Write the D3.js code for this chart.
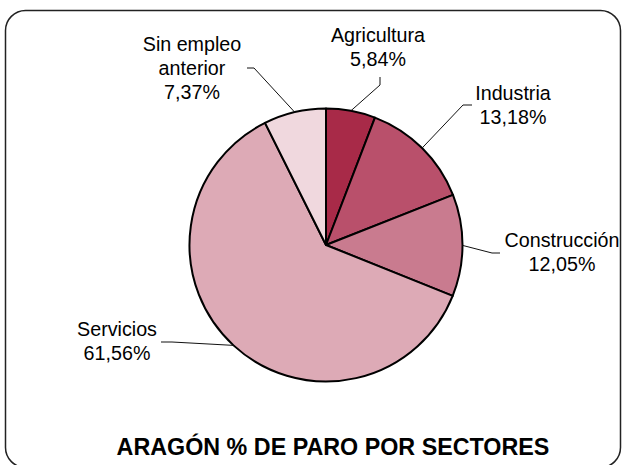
<!DOCTYPE html>
<html>
<head>
<meta charset="utf-8">
<script src="https://cdn.jsdelivr.net/npm/d3@7"></script>
<style>
  html, body { margin: 0; padding: 0; background: #fff; }
  svg { display: block; }
  text { font-family: "Liberation Sans", Arial, sans-serif; }
</style>
</head>
<body>
<svg id="chart" width="624" height="465"></svg>
<script>
// Unemployment share by sector, Aragón
const sectors = ["Agricultura", "Industria", "Construcción", "Servicios", "Sin empleo anterior"];
const shares = [5.84, 13.18, 12.05, 61.56, 7.37];
const sliceColors = ["#A82A48", "#B9506B", "#C97B8F", "#DDAAB6", "#F0D8DE"];
const title = "ARAGÓN % DE PARO POR SECTORES";

// Label layout: text lines, centre x, first baseline, leader elbow and end
const labelLayout = [
  { lines: ["Agricultura"], cx: 378, y: 42, elbow: [380, 85], end: [380, 77] },
  { lines: ["Industria"], cx: 513, y: 100, elbow: [463, 105], end: [472, 105] },
  { lines: ["Construcción"], cx: 562, y: 247, elbow: [492, 253], end: [500, 253] },
  { lines: ["Servicios"], cx: 117, y: 336, elbow: [172, 342], end: [161, 342] },
  { lines: ["Sin empleo", "anterior"], cx: 192, y: 51, elbow: [254, 68], end: [247, 68] }
];

const fmt = v => v.toFixed(2).replace(".", ",") + "%";

const svg = d3.select("#chart");

// Rounded frame
svg.append("rect")
  .attr("x", 5.5).attr("y", 10.5)
  .attr("width", 615).attr("height", 457)
  .attr("rx", 20).attr("ry", 20)
  .attr("fill", "#fff")
  .attr("stroke", "#222")
  .attr("stroke-width", 1.5);

const cx = 326, cy = 245, radius = 136.5;

const pie = d3.pie().sort(null).value(d => d.value);
const arcs = pie(sectors.map((s, i) => ({ name: s, value: shares[i], color: sliceColors[i] })));
const arc = d3.arc().innerRadius(0).outerRadius(radius);

const g = svg.append("g").attr("transform", `translate(${cx},${cy})`);

g.selectAll("path.slice")
  .data(arcs)
  .join("path")
  .attr("class", "slice")
  .attr("d", arc)
  .attr("fill", d => d.data.color)
  .attr("stroke", "#000")
  .attr("stroke-width", 2)
  .attr("stroke-linejoin", "round");

// Leader lines from each slice edge to its label
const line = d3.line();
arcs.forEach((d, i) => {
  const mid = (d.startAngle + d.endAngle) / 2;
  const p0 = [cx + radius * Math.sin(mid), cy - radius * Math.cos(mid)];
  const L = labelLayout[i];
  svg.append("path")
    .attr("d", line([p0, L.elbow, L.end]))
    .attr("fill", "none")
    .attr("stroke", "#111")
    .attr("stroke-width", 1);
});

// Labels: name lines followed by the percentage
arcs.forEach((d, i) => {
  const L = labelLayout[i];
  const t = svg.append("text")
    .attr("text-anchor", "middle")
    .attr("font-size", "19.7px")
    .attr("fill", "#000");
  L.lines.concat([fmt(d.data.value)]).forEach((s, k) => {
    t.append("tspan")
      .attr("x", L.cx)
      .attr("y", L.y + k * 24)
      .text(s);
  });
});

// Title
svg.append("text")
  .attr("x", 333)
  .attr("y", 455)
  .attr("text-anchor", "middle")
  .attr("font-size", "23.3px")
  .attr("font-weight", "bold")
  .attr("fill", "#000")
  .text(title);
</script>
</body>
</html>
